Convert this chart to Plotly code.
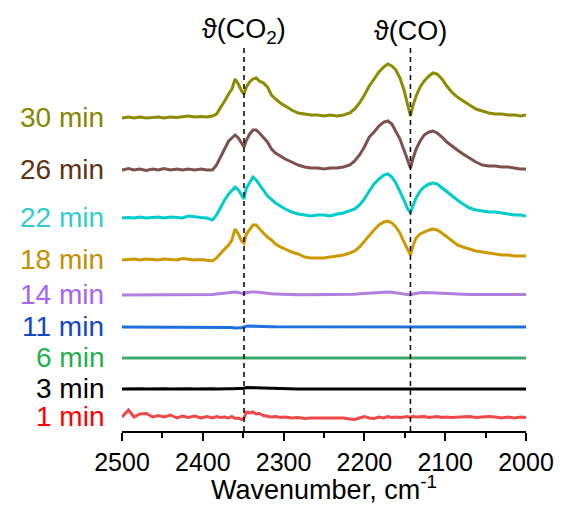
import plotly.graph_objects as go

# Shared wavenumber grid (cm^-1)
wavenumber = [
    2500, 2492, 2485, 2478, 2470, 2462, 2455, 2448, 2440, 2432,
    2425, 2418, 2410, 2402, 2395, 2388, 2383, 2378, 2373, 2368,
    2364, 2360, 2356, 2352, 2349, 2346, 2342, 2338, 2334, 2330,
    2325, 2320, 2315, 2310, 2304, 2298, 2290, 2282, 2274, 2266,
    2258, 2250, 2242, 2234, 2226, 2218, 2212, 2206, 2200, 2194,
    2188, 2182, 2176, 2171, 2166, 2161, 2156, 2151, 2147, 2143,
    2140, 2136, 2131, 2126, 2120, 2115, 2110, 2104, 2098, 2092,
    2085, 2078, 2070, 2062, 2054, 2046, 2038, 2030, 2022, 2014,
    2007, 2000,
]

# Time labels (bottom to top)
times = ["1 min", "3 min", "6 min", "11 min", "14 min", "18 min", "22 min", "26 min", "30 min"]

# Vertical offsets of each spectrum (a.u.)
offsets = [14, 42, 73, 104, 136, 171, 213, 261, 313]

# Intensity of each spectrum relative to its offset (a.u.)
i_1min = [
    0, 7, 0, 3, 3.5, 0, 1.5, 0, 2, -1,
    1, -0.5, 1, -1, 0.5, -1, 0.5, -0.5, 0, -1,
    0.5, -1.5, -1, -2.5, -1, 5, 4, 5, 3, 3.5,
    1.5, 1, 0, 0.5, -0.5, 0, -1, -0.5, -1.5, -1,
    -1, -0.5, -1, -0.5, -1, -2, -2.5, -1, 0.5, -1,
    -1.5, 0, -1, 0.5, -0.5, 0, -0.5, 0, 0.5, -0.5,
    0.5, 0, 0, 0.5, -0.5, 0, 0.5, -0.5, 0, -0.5,
    0, 0, 0.5, -0.5, 0, 0.5, 0, -1, 0, -1,
    0, -0.5,
]
i_3min = [
    0, 0.3, 0, 0.2, 0, 0.3, 0, 0.2, 0, 0.3,
    0, 0.2, 0, 0.3, 0, 0.2, 0, 0.3, 0.2, 0.3,
    0.3, 0.4, 0.4, 0.4, 0.8, 1.5, 1.4, 1.2, 1.0, 0.8,
    0.6, 0.4, 0.3, 0.2, 0.2, 0.1, 0.1, 0, 0.1, 0,
    0.1, 0, 0.1, 0, 0.1, 0, 0.1, 0, 0.1, 0,
    0.1, 0, 0.1, 0, 0.1, 0, 0.1, 0, 0.1, 0,
    0.1, 0, 0.1, 0, 0.1, 0, 0.1, 0, 0.1, 0,
    0.1, 0, 0.1, 0, 0.1, 0, 0.1, 0, 0.1, 0,
    0.1, 0,
]
i_6min = [0] * 82
i_11min = [
    0, 0, 0, 0, 0, 0, 0, 0, 0, 0,
    0, 0, 0, 0, 0, 0, 0, -0.2, -0.3, -0.4,
    -0.6, -1, -1, -0.8, 0, 0.8, 1, 0.8, 0.6, 0.5,
    0.4, 0.3, 0.3, 0.2, 0.2, 0.1, 0.1, 0, 0, 0,
    0, 0, 0, 0.1, 0.1, 0.1, 0.2, 0.2, 0.3, 0.3,
    0.3, 0.4, 0.4, 0.4, 0.4, 0.3, 0.3, 0.2, 0.2, 0.1,
    0.2, 0.3, 0.3, 0.3, 0.3, 0.2, 0.2, 0.2, 0.1, 0.1,
    0.1, 0, 0, 0, 0, 0, 0, 0, 0, 0,
    0, 0,
]
i_14min = [
    0, 0, 0, 0, 0, 0, 0, 0, 0, 0,
    0, 0, 0, 0, 0.2, 0.5, 1, 1.5, 2, 2.5,
    3, 3, 2.5, 1.5, 1, 2.5, 3, 3, 3, 2.5,
    2, 1.5, 1.2, 1, 0.7, 0.5, 0.3, 0.2, 0.2, 0.2,
    0.2, 0.2, 0.2, 0.2, 0.2, 0.5, 0.8, 1.2, 1.6, 2,
    2.5, 2.8, 3, 3, 2.8, 2.3, 1.7, 1, 0.5, 0,
    1, 1.8, 2.2, 2.5, 2.5, 2.3, 2, 1.7, 1.4, 1.1,
    0.9, 0.7, 0.5, 0.5, 0.4, 0.4, 0.4, 0.4, 0.4, 0.5,
    0.5, 0.5,
]
i_18min = [
    0, 0.5, 1, 0, 1, 0.5, 0, 1, 0.5, 0,
    1.5, 0.5, 0, 0.5, 0, -1, 2, 7, 11, 15,
    20, 31, 26, 19, 17, 26, 31, 35, 35, 31,
    27, 23, 20, 16, 13, 11, 8, 6, 3, 2,
    2, 2, 3, 4, 5, 7, 9, 13, 19, 25,
    30, 35, 38, 39, 37, 33, 27, 18, 11, 5,
    14, 22, 26, 28, 30, 31, 30, 27, 23, 19,
    15, 13, 11, 9, 8, 7, 6, 5, 5, 4,
    4, 4,
]
i_22min = [
    0, 0.5, 0, 1, 0, 0.5, 1, 0, 1, 0.5,
    0, 2, 1, 0.5, 0, -2, 3, 11, 18, 24,
    28, 31, 28, 22, 19, 30, 36, 41, 38, 34,
    28, 22, 18, 15, 12, 9, 6, 4, 3, 2,
    3, 3, 2, 4, 5, 7, 9, 13, 19, 27,
    34, 39, 43, 44, 41, 35, 27, 18, 10, 5,
    12, 20, 27, 31, 34, 35, 34, 30, 26, 22,
    18, 14, 10, 8, 7, 6, 6, 5, 4, 3,
    3, 2,
]
i_26min = [
    0, 1.5, 0, 1, -0.5, 1, 0, 1.5, 0, 1,
    0, 1, 0, 1, 0, 0, 5, 13, 22, 29,
    32, 35, 32, 26, 23, 30, 36, 40, 40, 37,
    32, 28, 21, 17, 14, 11, 8, 5, 3, 2,
    2, 1, 2, 2, 3, 5, 9, 15, 23, 33,
    38, 44, 48, 49, 46, 39, 31, 20, 10, 2,
    11, 21, 29, 35, 38, 39, 37, 33, 28, 24,
    20, 16, 12, 8, 5, 4, 4, 3, 3, 2,
    1, 1,
]
i_30min = [
    0, 1, 0, 1, 0, 0.5, 1, 0, 1, 0.5,
    1, 2, 1, 1.5, 1, 2, 4, 10, 17, 24,
    29, 39, 34, 27, 24, 31, 36, 39, 40, 37,
    35, 31, 23, 19, 15, 12, 8, 5, 4, 3,
    3, 2, 3, 2, 3, 5, 9, 15, 23, 32,
    39, 46, 51, 54, 52, 48, 40, 28, 15, 2,
    12, 22, 31, 37, 42, 45, 44, 39, 32, 26,
    21, 17, 13, 9, 7, 5, 4, 4, 3, 3,
    2, 3,
]
intensities = [i_1min, i_3min, i_6min, i_11min, i_14min, i_18min, i_22min, i_26min, i_30min]

line_colors = ["#F04848", "#000000", "#3DAA6E", "#1E6FE0", "#B07FE0",
               "#CC9A00", "#00CCCC", "#7E5050", "#8C8C00"]
label_colors = ["#FF0000", "#000000", "#1FB050", "#1445C8", "#A366F5",
                "#C39100", "#33CCCC", "#5E3310", "#858500"]

# Band positions (cm^-1)
band_positions = [2349, 2143]
band_labels = ["ϑ(CO<sub>2</sub>)", "ϑ(CO)"]

FONT = "Liberation Sans, Arial, sans-serif"

fig = go.Figure()
for name, off, inten, lc in zip(times, offsets, intensities, line_colors):
    fig.add_trace(go.Scatter(
        x=wavenumber, y=[off + v for v in inten], mode="lines", name=name,
        line=dict(color=lc, width=3), showlegend=False, hoverinfo="skip",
    ))

for name, off, col in zip(times, offsets, label_colors):
    fig.add_annotation(
        x=-0.04, xref="paper", y=off, yref="y", text=name, showarrow=False,
        xanchor="right", yanchor="middle", yshift=1,
        font=dict(family=FONT, size=28, color=col),
    )

for pos, lab in zip(band_positions, band_labels):
    fig.add_shape(type="line", x0=pos, x1=pos, xref="x", y0=0, y1=1, yref="paper",
                  line=dict(color="black", width=1.5, dash="5px,4px"))
    fig.add_annotation(
        x=pos, xref="x", y=1.042, yref="paper", text=lab, showarrow=False,
        xanchor="center", yanchor="middle",
        font=dict(family=FONT, size=27, color="black"),
    )

fig.update_layout(
    width=561, height=505,
    margin=dict(l=122, r=35, t=47, b=74, autoexpand=False),
    paper_bgcolor="white", plot_bgcolor="white",
    xaxis=dict(
        range=[2500, 2000], showline=True, linecolor="black", linewidth=2,
        automargin=False,
        ticks="outside", ticklen=8, tickwidth=1.5, tickcolor="black",
        tickvals=[2500, 2400, 2300, 2200, 2100, 2000],
        tickfont=dict(family=FONT, size=25, color="black"),
        minor=dict(ticks="outside", ticklen=5, tickwidth=1.5, tickcolor="black", dtick=50),
        showgrid=False, zeroline=False,
        title=dict(text="Wavenumber, cm<sup>-1</sup>", standoff=6,
                   font=dict(family=FONT, size=27, color="black")),
    ),
    yaxis=dict(range=[0, 384], visible=False, showgrid=False, zeroline=False,
               automargin=False),
)

fig.write_html("out.html", config={"displayModeBar": False},
               post_script="document.body.style.margin='0';document.body.style.overflow='hidden';")
